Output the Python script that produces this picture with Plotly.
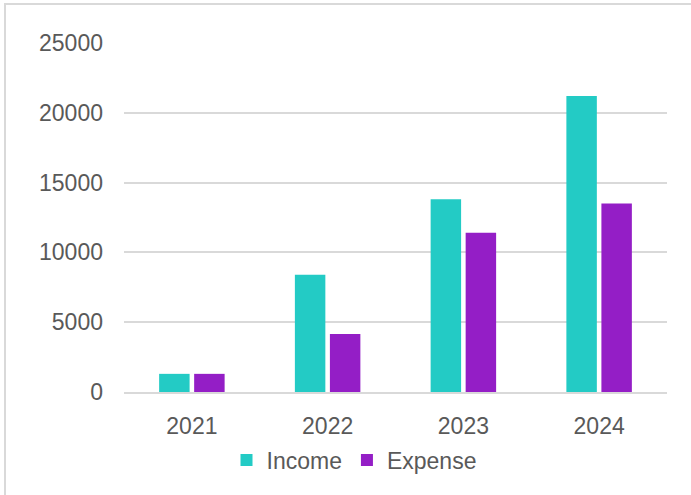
import plotly.graph_objects as go

years = ["2021", "2022", "2023", "2024"]
income = [1300, 8400, 13800, 21200]
expense = [1300, 4150, 11400, 13500]
y_ticks = [0, 5000, 10000, 15000, 20000, 25000]

TEAL = "#23CBC5"
PURPLE = "#941EC6"
GRID = "#D9D9D9"
TXT = "#595959"
FONT = "Liberation Sans, Arial, sans-serif"
FS = 23

fig = go.Figure()
fig.add_trace(go.Bar(name="Income", x=years, y=income, marker=dict(color=TEAL, line=dict(width=0))))
fig.add_trace(go.Bar(name="Expense", x=years, y=expense, marker=dict(color=PURPLE, line=dict(width=0))))

W, H = 691, 495
L, R, T, B = 124, 24, 43, 103
pw, ph = W - L - R, H - T - B

def px(x):
    return (x - L) / pw

def py(y):
    return (H - B - y) / ph

fig.update_layout(
    width=W, height=H,
    margin=dict(l=L, r=R, t=T, b=B, pad=0),
    paper_bgcolor="white", plot_bgcolor="white",
    barmode="group", bargap=0.484, bargroupgap=0.13,
    font=dict(family=FONT, size=FS, color=TXT),
    showlegend=True,
    legend=dict(orientation="h", x=px(354), xanchor="center", y=py(460), yanchor="middle",
                font=dict(family=FONT, size=FS, color=TXT), itemwidth=30,
                bgcolor="rgba(0,0,0,0)", traceorder="normal"),
    xaxis=dict(showgrid=False, showline=True, linecolor=GRID, linewidth=2,
               ticks="", ticklabelstandoff=12, tickfont=dict(family=FONT, size=FS, color=TXT)),
    yaxis=dict(range=[0, 25000], tickvals=y_ticks, ticktext=[str(v) for v in y_ticks],
               showgrid=True, gridcolor=GRID, gridwidth=2, zeroline=False,
               showline=False, ticks="", ticklabelstandoff=20,
               tickfont=dict(family=FONT, size=FS, color=TXT)),
    shapes=[dict(type="rect", xref="paper", yref="paper",
                 x0=px(5), x1=px(700), y0=py(4), y1=py(505),
                 line=dict(color=GRID, width=2), fillcolor="rgba(0,0,0,0)", layer="below")],
)

fig.write_html("out.html", config={"displayModeBar": False},
               post_script="document.body.style.margin='0';document.body.style.overflow='hidden';")
